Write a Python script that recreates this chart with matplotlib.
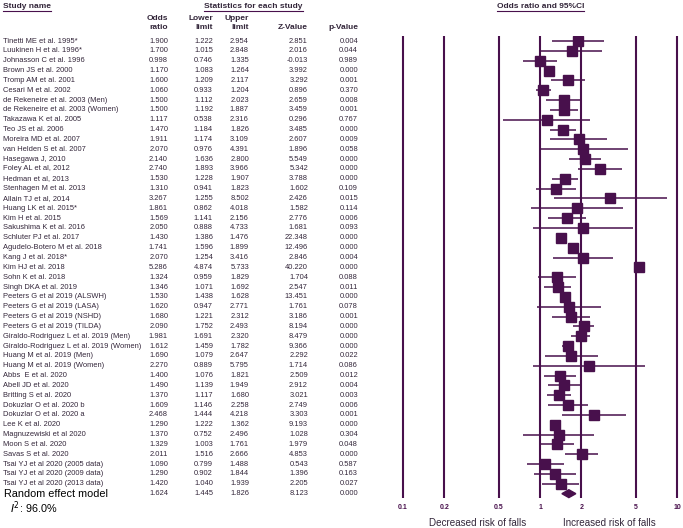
import matplotlib.pyplot as plt
from matplotlib.lines import Line2D
from matplotlib.ticker import NullLocator
from matplotlib.transforms import blended_transform_factory

plt.rcParams['font.family'] = ['Liberation Sans', 'DejaVu Sans']

studies = [
    "Tinetti ME et al. 1995*", "Luukinen H et al. 1996*", "Johnasson C et al. 1996",
    "Brown JS et al. 2000", "Tromp AM et al. 2001", "Cesari M et al. 2002",
    "de Rekeneire et al. 2003 (Men)", "de Rekeneire et al. 2003 (Women)",
    "Takazawa K et al. 2005", "Teo JS et al. 2006", "Moreira MD et al. 2007",
    "van Helden S et al. 2007", "Hasegawa J, 2010", "Foley AL et al, 2012",
    "Hedman et al, 2013", "Stenhagen M et al. 2013", "Allain TJ et al, 2014",
    "Huang LK et al. 2015*", "Kim H et al. 2015", "Sakushima K et al. 2016",
    "Schluter PJ et al. 2017", "Agudelo-Botero M et al. 2018", "Kang J et al. 2018*",
    "Kim HJ et al. 2018", "Sohn K et al. 2018", "Singh DKA et al. 2019",
    "Peeters G et al 2019 (ALSWH)", "Peeters G et al 2019 (LASA)",
    "Peeters G et al 2019 (NSHD)", "Peeters G et al 2019 (TILDA)",
    "Giraldo-Rodriguez L et al. 2019 (Men)", "Giraldo-Rodriguez L et al. 2019 (Women)",
    "Huang M et al. 2019 (Men)", "Huang M et al. 2019 (Women)", "Abbs  E et al. 2020",
    "Abell JD et al. 2020", "Britting S et al. 2020", "Dokuzlar O et al. 2020 b",
    "Dokuzlar O et al. 2020 a", "Lee K et al. 2020", "Magnuzewiski et al 2020",
    "Moon S et al. 2020", "Savas S et al. 2020", "Tsai YJ et al 2020 (2005 data)",
    "Tsai YJ et al 2020 (2009 data)", "Tsai YJ et al 2020 (2013 data)",
]
odds = [1.900, 1.700, 0.998, 1.170, 1.600, 1.060, 1.500, 1.500, 1.117, 1.470,
        1.911, 2.070, 2.140, 2.740, 1.530, 1.310, 3.267, 1.861, 1.569, 2.050,
        1.430, 1.741, 2.070, 5.286, 1.324, 1.346, 1.530, 1.620, 1.680, 2.090,
        1.981, 1.612, 1.690, 2.270, 1.400, 1.490, 1.370, 1.609, 2.468, 1.290,
        1.370, 1.329, 2.011, 1.090, 1.290, 1.420]
lower = [1.222, 1.015, 0.746, 1.083, 1.209, 0.933, 1.112, 1.192, 0.538, 1.184,
         1.174, 0.976, 1.636, 1.893, 1.228, 0.941, 1.255, 0.862, 1.141, 0.888,
         1.386, 1.596, 1.254, 4.874, 0.959, 1.071, 1.438, 0.947, 1.221, 1.752,
         1.691, 1.459, 1.079, 0.889, 1.076, 1.139, 1.117, 1.146, 1.444, 1.222,
         0.752, 1.003, 1.516, 0.799, 0.902, 1.040]
upper = [2.954, 2.848, 1.335, 1.264, 2.117, 1.204, 2.023, 1.887, 2.316, 1.826,
         3.109, 4.391, 2.800, 3.966, 1.907, 1.823, 8.502, 4.018, 2.156, 4.733,
         1.476, 1.899, 3.416, 5.733, 1.829, 1.692, 1.628, 2.771, 2.312, 2.493,
         2.320, 1.782, 2.647, 5.795, 1.821, 1.949, 1.680, 2.258, 4.218, 1.362,
         2.496, 1.761, 2.666, 1.488, 1.844, 1.939]
zval = [2.851, 2.016, -0.013, 3.992, 3.292, 0.896, 2.659, 3.459, 0.296, 3.485,
        2.607, 1.896, 5.549, 5.342, 3.788, 1.602, 2.426, 1.582, 2.776, 1.681,
        22.348, 12.496, 2.846, 40.220, 1.704, 2.547, 13.451, 1.761, 3.186, 8.194,
        8.479, 9.366, 2.292, 1.714, 2.509, 2.912, 3.021, 2.749, 3.303, 9.193,
        1.028, 1.979, 4.853, 0.543, 1.396, 2.205]
pval = [0.004, 0.044, 0.989, 0.000, 0.001, 0.370, 0.008, 0.001, 0.767, 0.000,
        0.009, 0.058, 0.000, 0.000, 0.000, 0.109, 0.015, 0.114, 0.006, 0.093,
        0.000, 0.000, 0.004, 0.000, 0.088, 0.011, 0.000, 0.078, 0.001, 0.000,
        0.000, 0.000, 0.022, 0.086, 0.012, 0.004, 0.003, 0.006, 0.001, 0.000,
        0.304, 0.048, 0.000, 0.587, 0.163, 0.027]

pooled_name = "Random effect model"
pooled = [1.624, 1.445, 1.826, 8.123, 0.000]
i2 = 96.0

ticks = [0.1, 0.2, 0.5, 1, 2, 5, 10]
tick_labels = ["0.1", "0.2", "0.5", "1", "2", "5", "10"]

purple = "#48104c"
txt = "#33263a"

W, H = 683, 528
fig = plt.figure(figsize=(W / 100, H / 100), dpi=100)


def fx(px):
    return px / W


def fy(py):
    return 1 - py / H


# forest panel
ax = fig.add_axes([fx(395), fy(498), fx(683) - fx(395), fy(36) - fy(498)])
ax.set_xscale("log")
ax.set_xlim(0.0874, 11.06)
n = len(studies)
ax.set_ylim(n + 0.44, -0.51)
for t in ticks:
    ax.axvline(t, color=purple, lw=1.5)
rows = list(range(n))
ax.hlines(rows, lower, upper, color=purple, lw=1.1)
ax.plot(odds, rows, "s", ms=6.8, color=purple, mec=purple)
est, lo, hi = pooled[0], pooled[1], pooled[2]
ax.fill([lo, est, hi, est], [n, n - 0.4, n, n + 0.4], color=purple, clip_on=False)
for s in ax.spines.values():
    s.set_visible(False)
ax.set_yticks([])
ax.xaxis.set_minor_locator(NullLocator())
ax.set_xticks(ticks)
ax.set_xticklabels(tick_labels, fontsize=5, fontweight="bold", color=purple)
ax.tick_params(axis="x", length=0, pad=4)

# table
trans = blended_transform_factory(fig.transFigure, ax.transData)
cols_x = [168, 213, 249, 308, 358]
fs = 5.4
for i in rows:
    fig.text(fx(3), i, studies[i], transform=trans, va="center", fontsize=fs, color=txt)
    vals = [odds[i], lower[i], upper[i], zval[i], pval[i]]
    for cx, v in zip(cols_x, vals):
        fig.text(fx(cx), i, "%.3f" % v, transform=trans, va="center", ha="right",
                 fontsize=fs, color=txt)
fig.text(fx(4), n, pooled_name, transform=trans, va="center", fontsize=7.8, color="black")
for cx, v in zip(cols_x, pooled):
    fig.text(fx(cx), n, "%.3f" % v, transform=trans, va="center", ha="right",
             fontsize=fs, color=txt)
fig.text(fx(10), n + 1.4, r"$I^2$: %.1f%%" % i2, transform=trans, va="center",
         fontsize=7.8, color="black")

# headers
hdr = dict(fontsize=6, fontweight="bold", color=txt, va="center")
heads = [
    fig.text(fx(3), fy(6), "Study name", ha="left", **hdr),
    fig.text(fx(253.5), fy(6), "Statistics for each study", ha="center", **hdr),
    fig.text(fx(540.5), fy(6), "Odds ratio and 95%CI", ha="center", **hdr),
]
fig.text(fx(cols_x[0]), fy(19), "Odds", ha="right", **hdr)
fig.text(fx(cols_x[0]), fy(27.5), "ratio", ha="right", **hdr)
fig.text(fx(cols_x[1]), fy(19), "Lower", ha="right", **hdr)
fig.text(fx(cols_x[1]), fy(27.5), "limit", ha="right", **hdr)
fig.text(fx(cols_x[2]), fy(19), "Upper", ha="right", **hdr)
fig.text(fx(cols_x[2]), fy(27.5), "limit", ha="right", **hdr)
fig.text(fx(cols_x[3]), fy(27.5), "Z-Value", ha="right", **hdr)
fig.text(fx(cols_x[4]), fy(27.5), "p-Value", ha="right", **hdr)

renderer = fig.canvas.get_renderer()
for h in heads:
    bb = h.get_window_extent(renderer=renderer)
    fig.add_artist(Line2D([bb.x0 / W, bb.x1 / W], [fy(10.5), fy(10.5)],
                          color=purple, lw=0.8, transform=fig.transFigure))

fig.text(fx(478), fy(523), "Decreased risk of falls", ha="center", va="center",
         fontsize=7.1, color=txt)
fig.text(fx(609), fy(523), "Increased risk of falls", ha="center", va="center",
         fontsize=7.1, color=txt)

fig.savefig("out.png", dpi=100)
